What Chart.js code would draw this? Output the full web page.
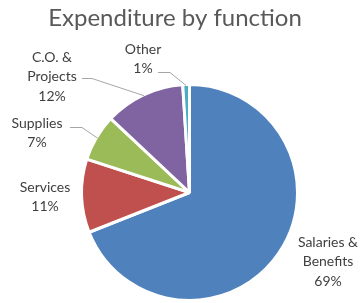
<!DOCTYPE html>
<html>
<head>
<meta charset="utf-8">
<script src="https://cdn.jsdelivr.net/npm/chart.js@4/dist/chart.umd.min.js"></script>
<style>
  html, body { margin: 0; padding: 0; background: #fff; }
</style>
</head>
<body>
<canvas id="pie" width="360" height="303"></canvas>
<script>
const categories = ["Salaries & Benefits", "Services", "Supplies", "C.O. & Projects", "Other"];
const labelLines = [["Salaries &", "Benefits"], ["Services"], ["Supplies"], ["C.O. &", "Projects"], ["Other"]];
const shares = [69, 11, 7, 12, 1];
const sliceColors = ["#4f81bd", "#c0504d", "#9bbb59", "#8064a2", "#4bacc6"];

// where each data label sits (first line centre) and its leader line elbow
const labelSpots = [
  { x: 328, y: 242, line: null },
  { x: 45, y: 187, line: null },
  { x: 37, y: 123, line: [[70, 127], [82, 127]] },
  { x: 52, y: 57, line: [[82, 78], [92, 78]] },
  { x: 143, y: 49, line: [[158, 72], [170, 72]] }
];

const labelPlugin = {
  id: "pieLabels",
  afterDraw(chart) {
    const ctx = chart.ctx;
    ctx.save();
    // title
    ctx.fillStyle = "#595959";
    ctx.font = "24px Lato";
    ctx.textAlign = "center";
    ctx.textBaseline = "middle";
    ctx.fillText("Expenditure by function", 175, 18);

    const arcs = chart.getDatasetMeta(0).data;
    arcs.forEach((arc, i) => {
      const spot = labelSpots[i];
      const p = arc.getProps(["x", "y", "startAngle", "endAngle", "outerRadius"], true);
      const mid = (p.startAngle + p.endAngle) / 2;
      if (spot.line) {
        ctx.strokeStyle = "#a6a6a6";
        ctx.lineWidth = 1;
        ctx.beginPath();
        ctx.moveTo(spot.line[0][0], spot.line[0][1] + 0.5);
        ctx.lineTo(spot.line[1][0], spot.line[1][1] + 0.5);
        ctx.lineTo(p.x + Math.cos(mid) * (p.outerRadius - 1), p.y + Math.sin(mid) * (p.outerRadius - 1));
        ctx.stroke();
      }
      const total = shares.reduce((a, b) => a + b, 0);
      const lines = labelLines[i].concat([Math.round(shares[i] / total * 100) + "%"]);
      ctx.fillStyle = "#404040";
      ctx.font = "14px Lato";
      lines.forEach((t, k) => ctx.fillText(t, spot.x, spot.y + k * 19.5));
    });
    ctx.restore();
  }
};

new Chart(document.getElementById("pie"), {
  type: "pie",
  data: {
    labels: categories,
    datasets: [{
      data: shares,
      backgroundColor: sliceColors,
      borderColor: "#ffffff",
      borderWidth: 3
    }]
  },
  options: {
    responsive: false,
    animation: false,
    devicePixelRatio: 1,
    layout: { padding: { left: 80, right: 61, top: 83, bottom: 1 } },
    plugins: {
      legend: { display: false },
      tooltip: { enabled: false },
      title: { display: false }
    }
  },
  plugins: [labelPlugin]
});
</script>
</body>
</html>
